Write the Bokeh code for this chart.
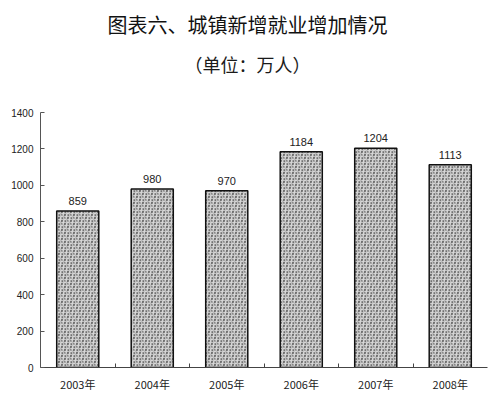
from bokeh.plotting import figure
from bokeh.models import (Range1d, LinearAxis, FixedTicker, Title, LabelSet, ColumnDataSource)
from bokeh.embed import file_html
from bokeh.resources import INLINE
from bokeh.core.properties import value

years = ["2003年", "2004年", "2005年", "2006年", "2007年", "2008年"]
jobs = [859, 980, 970, 1184, 1204, 1113]
y_ticks = [0, 200, 400, 600, 800, 1000, 1200, 1400]
title_text = "图表六、城镇新增就业增加情况"
subtitle_text = "（单位：万人）"

n = len(years)
centers = [i + 0.5 for i in range(n)]
src = ColumnDataSource(dict(x=centers, year=years, jobs=jobs, label=[str(v) for v in jobs]))

p = figure(width=500, height=398, x_range=Range1d(0, n), y_range=Range1d(0, y_ticks[-1]),
           title=None, x_axis_type=None, y_axis_type=None, output_backend="svg",
           toolbar_location=None,
           min_border_left=40, min_border_right=13, min_border_top=112, min_border_bottom=31)
p.outline_line_color = None
p.xgrid.visible = False
p.ygrid.visible = False
p.background_fill_color = "white"
p.border_fill_color = "white"

# bars: dotted texture with lighter diagonal bands
p.vbar(x="x", top="jobs", width=0.565, source=src, fill_color="#bcbcbc",
       hatch_pattern="dot", hatch_color="#000000", hatch_scale=3, hatch_weight=1.5,
       line_color=None)
p.vbar(x="x", top="jobs", width=0.565, source=src, fill_alpha=0,
       hatch_pattern="right_diagonal_line", hatch_color="white", hatch_alpha=0.4,
       hatch_scale=9, hatch_weight=2, line_color="#111111", line_width=1.5)

labels = LabelSet(x="x", y="jobs", text="label", source=src, text_align="center",
                  text_baseline="bottom", y_offset=6, text_font_size="11px",
                  text_font=value("Liberation Sans"), text_color="#222222")
p.add_layout(labels)

# y axis
yax = LinearAxis(ticker=FixedTicker(ticks=y_ticks), major_tick_in=4, major_tick_out=0,
                 minor_tick_line_color=None, major_label_standoff=7,
                 major_label_text_font_size="10px", major_label_text_font="Liberation Sans",
                 major_label_text_color="#222222", axis_line_color="#555555",
                 major_tick_line_color="#555555")
p.add_layout(yax, "left")

# x axis line with ticks at category boundaries, year labels at bar centres
xline = LinearAxis(ticker=FixedTicker(ticks=list(range(1, n))),
                   major_tick_in=4, major_tick_out=0, minor_tick_line_color=None,
                   major_label_overrides={k: "" for k in range(1, n)},
                   major_label_standoff=0, axis_label_standoff=0,
                   axis_line_color="#444444", major_tick_line_color="#444444")
p.add_layout(xline, "below")

xcat = LinearAxis(ticker=FixedTicker(ticks=centers), axis_line_color=None,
                  major_tick_line_color=None, minor_tick_line_color=None,
                  major_label_overrides={c: y for c, y in zip(centers, years)},
                  major_label_standoff=2, axis_label_standoff=0,
                  major_label_text_font_size="11px",
                  major_label_text_font="Noto Sans CJK SC",
                  major_label_text_color="#222222")
p.add_layout(xcat, "below")

# subtitle first (closest to frame), then main title above it
p.add_layout(Title(text=subtitle_text, align="left", text_font_size="18px",
                   text_font="Noto Sans CJK SC", text_font_style="normal",
                   text_color="#1a1a1a", standoff=72, offset=144), "above")
p.add_layout(Title(text=title_text, align="left", text_font_size="20px",
                   text_font="Noto Sans CJK SC", text_font_style="normal",
                   text_color="#111111", standoff=-52, offset=67), "above")

open("out.html", "w").write(file_html(p, INLINE))
